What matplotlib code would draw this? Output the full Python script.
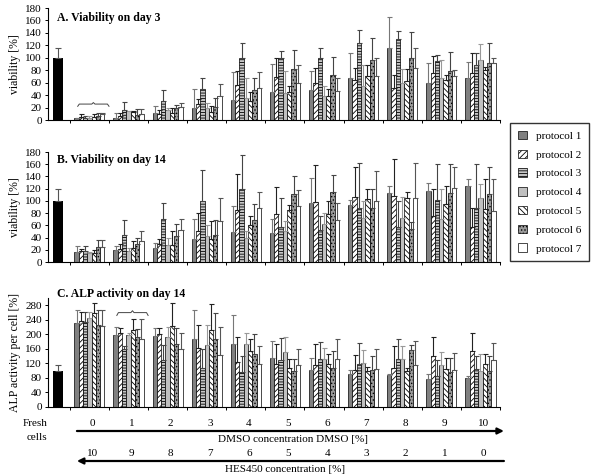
import numpy as np
import matplotlib.pyplot as plt
from matplotlib import transforms
from matplotlib.patches import Patch

plt.rcParams['font.family'] = ['Liberation Serif', 'DejaVu Serif']
plt.rcParams['hatch.linewidth'] = 0.6

protocols = ['protocol 1', 'protocol 2', 'protocol 3', 'protocol 4',
             'protocol 5', 'protocol 6', 'protocol 7']
dmso_labels = ['0', '1', '2', '3', '4', '5', '6', '7', '8', '9', '10']
hes_labels = ['10', '9', '8', '7', '6', '5', '4', '3', '2', '1', '0']

# fresh cells reference (mean, sd) for each panel
fresh_mean = [100, 100, 100]
fresh_sd = [15, 20, 16]

# A. viability day 3 -- rows = DMSO 0..10, cols = protocol 1..7
via3_mean = [
    [3, 5, 4, 4, 5, 6, 10],
    [4, 7, 16, 14, 13, 8, 10],
    [12, 10, 30, 16, 12, 20, 21],
    [19, 25, 50, 20, 13, 21, 38],
    [32, 56, 99, 35, 31, 48, 52],
    [45, 69, 100, 44, 45, 82, 59],
    [49, 60, 100, 38, 38, 72, 47],
    [68, 65, 124, 54, 70, 96, 71],
    [115, 52, 130, 59, 63, 99, 83],
    [60, 75, 95, 67, 64, 78, 70],
    [67, 75, 88, 97, 80, 91, 91],
]
via3_sd = [
    [1, 5, 3, 2, 5, 6, 2],
    [7, 5, 13, 1, 1, 10, 8],
    [10, 6, 19, 4, 8, 4, 7],
    [31, 8, 18, 8, 9, 15, 20],
    [45, 22, 24, 33, 14, 19, 25],
    [45, 31, 11, 34, 10, 30, 29],
    [29, 23, 15, 16, 12, 29, 21],
    [40, 18, 21, 35, 18, 36, 29],
    [51, 20, 13, 23, 19, 43, 32],
    [31, 28, 10, 30, 8, 32, 11],
    [27, 33, 20, 25, 5, 33, 8],
]

# B. viability day 14
via14_mean = [
    [16, 18, 18, 15, 15, 24, 24],
    [19, 22, 45, 18, 23, 30, 34],
    [23, 30, 70, 28, 28, 43, 53],
    [37, 50, 100, 42, 38, 44, 67],
    [49, 85, 119, 40, 60, 69, 88],
    [48, 78, 57, 50, 85, 112, 92],
    [97, 98, 52, 63, 79, 114, 69],
    [94, 106, 89, 72, 103, 89, 100],
    [113, 108, 58, 72, 104, 54, 104],
    [116, 75, 102, 70, 95, 113, 121],
    [124, 58, 88, 104, 87, 111, 84],
]
via14_sd = [
    [10, 4, 8, 2, 5, 12, 12],
    [7, 8, 24, 5, 12, 10, 16],
    [8, 7, 26, 12, 23, 19, 17],
    [33, 31, 50, 19, 29, 24, 38],
    [42, 59, 56, 10, 15, 26, 26],
    [23, 45, 48, 17, 9, 29, 26],
    [40, 60, 23, 18, 21, 28, 27],
    [7, 49, 73, 28, 17, 30, 49],
    [11, 60, 42, 35, 10, 12, 58],
    [13, 45, 58, 50, 30, 47, 35],
    [11, 30, 72, 23, 48, 44, 51],
]

# C. ALP activity per cell day 14
alp_mean = [
    [230, 237, 234, 246, 259, 225, 222],
    [199, 205, 161, 199, 211, 193, 188],
    [196, 200, 129, 193, 223, 174, 161],
    [188, 163, 106, 170, 211, 188, 144],
    [174, 124, 96, 174, 153, 145, 119],
    [135, 117, 129, 151, 108, 99, 115],
    [101, 115, 133, 133, 119, 108, 133],
    [92, 103, 119, 122, 99, 101, 104],
    [87, 108, 131, 133, 99, 156, 115],
    [78, 140, 85, 115, 104, 95, 101],
    [80, 153, 104, 99, 117, 98, 129],
]
alp_sd = [
    [38, 25, 28, 16, 27, 41, 46],
    [21, 13, 8, 5, 32, 23, 53],
    [22, 18, 41, 27, 64, 44, 44],
    [78, 64, 53, 57, 72, 72, 76],
    [80, 69, 44, 31, 33, 57, 48],
    [47, 57, 62, 42, 25, 34, 46],
    [35, 59, 46, 30, 28, 45, 55],
    [11, 41, 58, 34, 11, 39, 57],
    [3, 59, 56, 34, 9, 16, 66],
    [14, 53, 44, 37, 31, 40, 49],
    [5, 52, 36, 46, 28, 42, 48],
]

styles = [
    dict(facecolor='#808080', hatch=None),
    dict(facecolor='white', hatch='//////'),
    dict(facecolor='#c8c8c8', hatch='------'),
    dict(facecolor='#c0c0c0', hatch=None),
    dict(facecolor='white', hatch='\\\\\\\\\\\\'),
    dict(facecolor='#9a9a9a', hatch='.....'),
    dict(facecolor='white', hatch=None),
]
err_colors = ['#777777', '#222222', '#444444', '#999999', '#222222', '#444444', '#555555']

BAR_W = 0.11
FRESH_X = 0.19


def brace(ax, xc, half, y, h):
    xs = [xc - half, xc - half + 0.04, xc - 0.04, xc, xc + 0.04, xc + half - 0.04, xc + half]
    ys = [y, y + h * 0.6, y + h * 0.6, y + h, y + h * 0.6, y + h * 0.6, y]
    ax.plot(xs, ys, color='#444444', lw=0.7)


def draw_panel(ax, means, sds, k, ymax, yticks, ylabel, title, title_y):
    means = np.array(means)
    sds = np.array(sds)
    x = np.arange(1, len(means) + 1)
    ax.bar(FRESH_X, fresh_mean[k], width=0.25, color='black')
    ax.errorbar(FRESH_X, fresh_mean[k], yerr=[[0], [fresh_sd[k]]], fmt='none',
                ecolor='#555555', capsize=2, elinewidth=0.8, capthick=0.8)
    for j in range(7):
        xs = x + (j - 3) * BAR_W
        ax.bar(xs, means[:, j], BAR_W, edgecolor='black', linewidth=0.5, **styles[j])
        ax.errorbar(xs, means[:, j], yerr=[np.zeros(len(xs)), sds[:, j]], fmt='none',
                    ecolor=err_colors[j], capsize=1.8, elinewidth=0.8, capthick=0.8, zorder=3)
    ax.set_xlim(-0.06, 11.5)
    ax.set_ylim(0, ymax)
    ax.set_yticks(yticks)
    ax.set_xticks(np.arange(0.5, 12, 1))
    ax.set_xticklabels([])
    ax.tick_params(axis='both', length=2.5, width=0.7, labelsize=8, pad=2)
    for s in ['top', 'right']:
        ax.spines[s].set_visible(False)
    for s in ['left', 'bottom']:
        ax.spines[s].set_linewidth(0.8)
    ax.set_ylabel(ylabel, fontsize=8.5, labelpad=3)
    ax.text(0.02, title_y, title, transform=ax.transAxes, fontsize=8.5,
            fontweight='bold', va='center', ha='left')


fig = plt.figure(figsize=(6, 4.76), dpi=100)
L, W = 48 / 600, 452 / 600
ax_a = fig.add_axes([L, 1 - 120 / 476, W, 112 / 476])
ax_b = fig.add_axes([L, 1 - 262 / 476, W, 110 / 476])
ax_c = fig.add_axes([L, 1 - 407 / 476, W, 109 / 476])

draw_panel(ax_a, via3_mean, via3_sd, 0, 180, range(0, 181, 20), 'viability [%]',
           'A. Viability on day 3', 0.91)
draw_panel(ax_b, via14_mean, via14_sd, 1, 180, range(0, 181, 20), 'viability [%]',
           'B. Viability on day 14', 0.93)
draw_panel(ax_c, alp_mean, alp_sd, 2, 300, range(0, 281, 40), 'ALP activity per cell [%]',
           'C. ALP activity on day 14', 1.04)

brace(ax_a, 1.1, 0.4, 22, 6)
brace(ax_c, 2.1, 0.4, 252, 13)

# legend
handles = [Patch(edgecolor='black', linewidth=0.5, label=p, **st) for p, st in zip(protocols, styles)]
fig.legend(handles=handles, loc='upper left', bbox_to_anchor=(510 / 600, 1 - 123 / 476),
           fontsize=8, frameon=True, fancybox=False, edgecolor='black',
           handlelength=0.8, handleheight=0.8, handletextpad=0.8, labelspacing=0.78,
           borderpad=0.7, borderaxespad=0)

# concentration axes below panel C
trans = transforms.blended_transform_factory(ax_c.transData, fig.transFigure)
gx = np.arange(1, len(dmso_labels) + 1) + 0.08


def fy(px):
    return 1 - px / 476


fig.text(35 / 600, fy(424), 'Fresh', ha='center', va='center', fontsize=8)
fig.text(37 / 600, fy(438), 'cells', ha='center', va='center', fontsize=8)
for xx, lab in zip(gx, dmso_labels):
    ax_c.text(xx, fy(423), lab, transform=trans, ha='center', va='center', fontsize=8)
for xx, lab in zip(gx, hes_labels):
    ax_c.text(xx, fy(453), lab, transform=trans, ha='center', va='center', fontsize=8)
ax_c.annotate('', xy=(11.6, fy(431)), xytext=(0.68, fy(431)), xycoords=trans, textcoords=trans,
              arrowprops=dict(arrowstyle='-|>', lw=1.6, color='black', mutation_scale=9,
                              shrinkA=0, shrinkB=0), annotation_clip=False)
ax_c.annotate('', xy=(0.68, fy(461)), xytext=(11.6, fy(461)), xycoords=trans, textcoords=trans,
              arrowprops=dict(arrowstyle='-|>', lw=1.6, color='black', mutation_scale=9,
                              shrinkA=0, shrinkB=0), annotation_clip=False)
ax_c.text(6.2, fy(440), 'DMSO concentration DMSO [%]', transform=trans, ha='center',
          va='center', fontsize=8)
ax_c.text(6.0, fy(470), 'HES450 concentration [%]', transform=trans, ha='center',
          va='center', fontsize=8)

fig.savefig('out.png', dpi=100)
